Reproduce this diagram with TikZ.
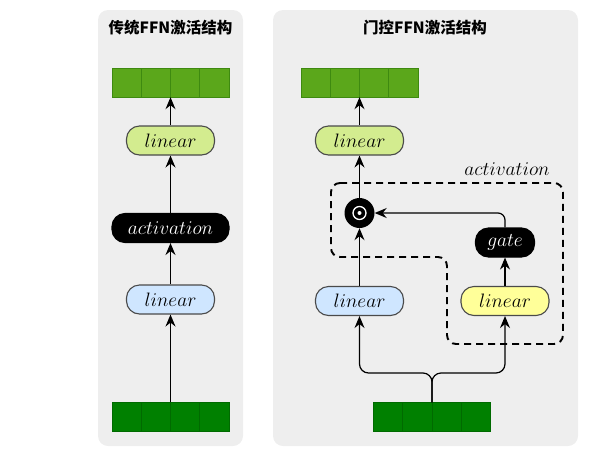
\documentclass[tikz,border=0pt]{standalone}
\usepackage{fontspec}
\newfontfamily\cjk{Noto Sans CJK SC}
\usetikzlibrary{arrows.meta}
\newcommand{\mlabel}[1]{\scalebox{1.35}{$#1$}}
\definecolor{panelbg}{HTML}{EEEEEE}
\definecolor{topgreen}{HTML}{5BA71B}
\definecolor{topgreenb}{HTML}{3E8A10}
\definecolor{botgreen}{HTML}{008000}
\definecolor{botgreenb}{HTML}{006A00}
\definecolor{lgreen}{HTML}{D3EC8F}
\definecolor{lblue}{HTML}{CFE6FF}
\definecolor{lyellow}{HTML}{FFFF99}
\definecolor{nodeb}{HTML}{4A4A4A}
\tikzset{
  panel/.style={fill=panelbg, draw=none, rounded corners=10pt},
  ttl/.style={font=\cjk\bfseries\fontsize{15.5}{18}\selectfont},
  pill/.style={draw=nodeb, line width=1.1pt, rounded corners=13pt, minimum height=29pt, inner sep=0pt, font=\fontsize{14.4}{17}\selectfont},
  linbox/.style={pill, minimum width=88pt},
  blackpill/.style={pill, fill=black, draw=black, text=white},
  cellbox/.style={draw, line width=0.8pt, minimum width=29.25pt, minimum height=29pt, inner sep=0pt},
  topcell/.style={cellbox, fill=topgreen, draw=topgreenb},
  botcell/.style={cellbox, fill=botgreen, draw=botgreenb},
  blockspan/.style={minimum width=117pt, minimum height=29pt, inner sep=0pt},
  arr/.style={line width=1.2pt, -{Stealth[length=12pt,width=10pt,inset=4pt]}},
  dashbox/.style={line width=1.9pt, dash pattern=on 7pt off 5pt, rounded corners=9pt}
}
\begin{document}
\begin{tikzpicture}[x=1pt,y=-1pt]
\useasboundingbox (0,0) rectangle (614,456);
% panels
\fill[panel] (98,10) rectangle (243,446);
\fill[panel] (273,10) rectangle (578,446);
\node[ttl] (t1) at (170.5,28) {传统FFN激活结构};
\node[ttl] (t2) at (425,28) {门控FFN激活结构};
% ---- left panel ----
\node[blockspan] (ltop) at (170.5,82.5) {};
\foreach \i in {0,1,2,3} {\node[topcell] (ltc\i) at (126.6+29.25*\i,82.5) {};}
\node[blockspan] (lbot) at (170.5,417) {};
\foreach \i in {0,1,2,3} {\node[botcell] (lbc\i) at (126.6+29.25*\i,417) {};}
\node[linbox, fill=lgreen] (llin2) at (170.5,140.5) {\mlabel{linear}};
\node[blackpill, minimum width=117pt] (lact) at (170.5,228) {\mlabel{activation}};
\node[linbox, fill=lblue] (llin1) at (170.5,299.5) {\mlabel{linear}};
\draw[arr] (lbot.north) -- (llin1.south);
\draw[arr] (llin1.north) -- (lact.south);
\draw[arr] (lact.north) -- (llin2.south);
\draw[arr] (llin2.north) -- (ltop.south);
% ---- right panel ----
\node[blockspan] (rtop) at (359.5,82.5) {};
\foreach \i in {0,1,2,3} {\node[topcell] (rtc\i) at (315.6+29.25*\i,82.5) {};}
\node[blockspan] (rbot) at (432,417) {};
\foreach \i in {0,1,2,3} {\node[botcell] (rbc\i) at (388.1+29.25*\i,417) {};}
\node[linbox, fill=lgreen] (rlin3) at (359.5,140.5) {\mlabel{linear}};
\node[circle, fill=black, minimum size=30pt, inner sep=0pt] (odot) at (359.5,213) {};
\draw[white, line width=1.3pt] (odot.center) circle (6.5pt);
\fill[white] (odot.center) circle (2pt);
\node[blackpill, minimum width=59pt] (gate) at (505,242.5) {\mlabel{gate}};
\node[linbox, fill=lblue] (rlin1) at (359.5,301) {\mlabel{linear}};
\node[linbox, fill=lyellow] (rlin2) at (505,301) {\mlabel{linear}};
\node[font=\fontsize{14.4}{17}\selectfont] (actlbl) at (507,169) {\mlabel{activation}};
\draw[dashbox] (331,183) -- (563,183) -- (563,344) -- (447,344) -- (447,257) -- (331,257) -- cycle;
\draw[arr] (odot.north) -- (rlin3.south);
\draw[arr] (rlin3.north) -- (rtop.south);
\draw[arr] (rlin1.north) -- (odot.south);
\draw[arr] (rlin2.north) -- (gate.south);
\draw[arr, rounded corners=7pt] (gate.north) |- (odot.east);
\draw[arr, rounded corners=9pt] (rbot.north) |- (rlin1.south |- 0,373) -- (rlin1.south);
\draw[arr, rounded corners=9pt] (rbot.north) |- (rlin2.south |- 0,373) -- (rlin2.south);
\end{tikzpicture}
\end{document}
